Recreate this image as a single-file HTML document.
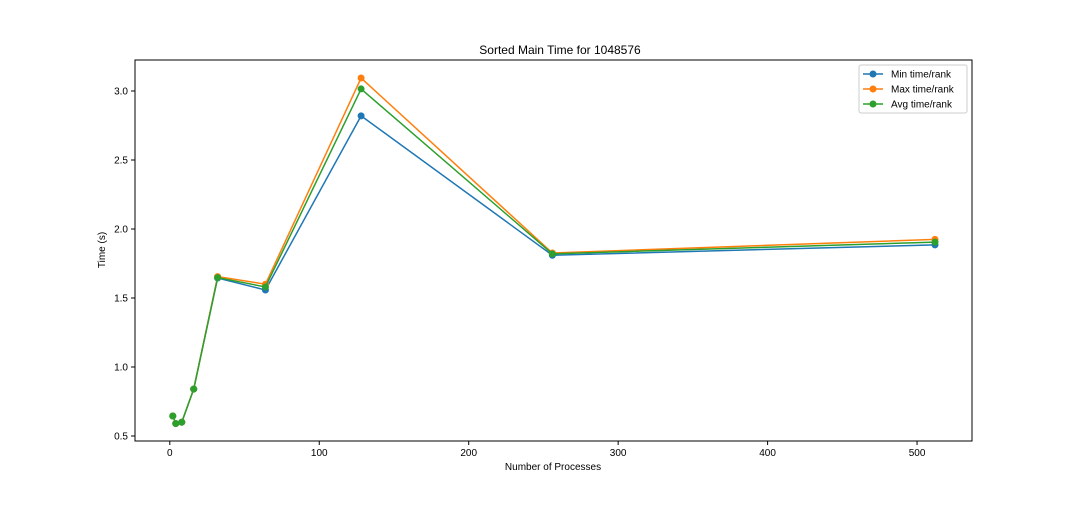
<!DOCTYPE html>
<html><head><meta charset="utf-8"><style>
body{margin:0;background:#fff;font-family:"Liberation Sans","DejaVu Sans",sans-serif}
</style></head><body>
<svg id="chart" width="1080" height="504" xmlns="http://www.w3.org/2000/svg" font-family="Liberation Sans, DejaVu Sans, sans-serif">
<rect width="1080" height="504" fill="#fff"/>
<text x="560" y="54" text-anchor="middle" font-size="12">Sorted Main Time for 1048576</text>
<g id="axes"></g>
<g id="series"></g>
<rect x="135" y="60" width="837" height="381" fill="none" stroke="#000" stroke-width="1"/>
<text x="553" y="470" text-anchor="middle" font-size="10">Number of Processes</text>
<text transform="translate(105,250) rotate(-90)" text-anchor="middle" font-size="10">Time (s)</text>
<g>
<rect x="859" y="65" width="108" height="48" fill="#fff" stroke="#ccc" rx="2"/>
</g>
</svg>
<script>
const procs=[2,4,8,16,32,64,128,256,512];
const minT=[0.645,0.59,0.60,0.84,1.645,1.558,2.82,1.81,1.885];
const maxT=[0.645,0.59,0.60,0.84,1.655,1.60,3.094,1.826,1.925];
const avgT=[0.645,0.59,0.60,0.84,1.648,1.58,3.015,1.82,1.905];
const seriesNames=["Min time/rank","Max time/rank","Avg time/rank"];
const xTicks=[0,100,200,300,400,500];
const yTicks=[0.5,1.0,1.5,2.0,2.5,3.0];
const NS="http://www.w3.org/2000/svg";
const xs=v=>169.8+v*1.4945;
const ys=v=>436-(v-0.5)*138;
const svg=document.getElementById('chart');
const axes=document.getElementById('axes');
const sg=document.getElementById('series');
function mk(tag,attrs,parent){const e=document.createElementNS(NS,tag);for(const k in attrs)e.setAttribute(k,attrs[k]);parent.appendChild(e);return e;}
xTicks.forEach(t=>{
  const l=mk('line',{x1:xs(t),x2:xs(t),y1:441,y2:445,stroke:'#000'},axes);
  
  
  const tx=mk('text',{x:xs(t),y:456,'text-anchor':'middle','font-size':10},axes);
  tx.textContent=t;
  
  
});
yTicks.forEach(t=>{
  const l=mk('line',{x1:131,x2:135,y1:ys(t),y2:ys(t),stroke:'#000'},axes);
  
  
  const tx=mk('text',{x:128,y:ys(t)+3.5,'text-anchor':'end','font-size':10},axes);
  tx.textContent=t.toFixed(1);
  
  
});
const data=[minT,maxT,avgT];
const colors=['#1f77b4','#ff7f0e','#2ca02c'];
data.forEach((arr,i)=>{
  const g=mk('g',{},sg);
  
  
  const pl=mk('polyline',{points:arr.map((v,j)=>xs(procs[j])+','+ys(v)).join(' '),fill:'none',stroke:colors[i],'stroke-width':1.5},g);
  
  
  arr.forEach((v,j)=>{
    const c=mk('circle',{cx:xs(procs[j]),cy:ys(v),r:3.5,fill:colors[i]},g);
    
    
  });
  const ly=74+i*15;
  const lg=mk('g',{},svg);
  
  
  mk('line',{x1:863,x2:883,y1:ly,y2:ly,stroke:colors[i],'stroke-width':1.5},lg);
  mk('circle',{cx:873,cy:ly,r:3.5,fill:colors[i]},lg);
  const t=mk('text',{x:891,y:ly+3.5,'font-size':10},lg);
  t.textContent=seriesNames[i];
});
</script>
</body></html>
